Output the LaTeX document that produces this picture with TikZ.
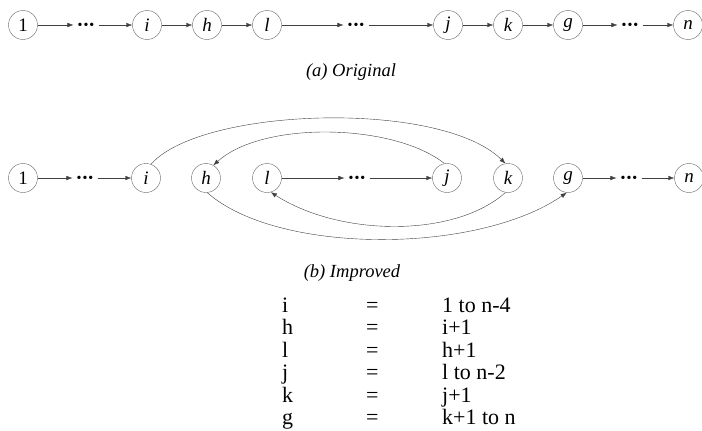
\documentclass[tikz,border=0pt]{standalone}
\usepackage{fontspec}
\setmainfont{Liberation Serif}
\usetikzlibrary{arrows.meta,positioning}
\newcommand{\skipdots}{\raisebox{-4.6pt}[0pt][0pt]{\fontsize{14}{15}\selectfont\textbullet\kern1pt\textbullet\kern1pt\textbullet}}
\tikzset{
  vertex/.style={circle, draw=black!60, thin, minimum size=29pt, inner sep=0pt,
    font=\fontsize{19}{21}\selectfont\itshape},
  skip/.style={inner sep=4pt},
  arr/.style={-{Latex[length=6pt,width=4.5pt]}, draw=black!75, thin},
  caption/.style={font=\fontsize{18.5}{20}\selectfont\itshape},
  tabcell/.style={anchor=base west, inner sep=0pt, font=\fontsize{22}{24}\selectfont}
}

\begin{document}
\begin{tikzpicture}[x=1pt, y=-1pt]
  \useasboundingbox (0,0) rectangle (702,431);

  % (a) original order
  \node[vertex] (a1) at (23,25) {\upshape 1};
  \node[skip] (ad1) at (86,25) {\skipdots};
  \node[vertex] (ai) at (147,25) {i};
  \node[vertex] (ah) at (207,25) {h};
  \node[vertex] (al) at (267,25) {l};
  \node[skip] (ad2) at (356,25) {\skipdots};
  \node[vertex] (aj) at (448,25) {j};
  \node[vertex] (ak) at (508,25) {k};
  \node[vertex] (ag) at (568,25) {g};
  \node[skip] (ad3) at (630,25) {\skipdots};
  \node[vertex] (an) at (688,25) {n};

  \draw[arr] (a1) -- (ad1);
  \draw[arr] (ad1) -- (ai);
  \draw[arr] (ai) -- (ah);
  \draw[arr] (ah) -- (al);
  \draw[arr] (al) -- (ad2);
  \draw[arr] (ad2) -- (aj);
  \draw[arr] (aj) -- (ak);
  \draw[arr] (ak) -- (ag);
  \draw[arr] (ag) -- (ad3);
  \draw[arr] (ad3) -- (an);

  \node[caption] (capa) at (351,72) {(a) Original};

  % (b) improved order
  \node[vertex] (b1) at (23,178) {\upshape 1};
  \node[skip] (bd1) at (85,178) {\skipdots};
  \node[vertex] (bi) at (146,178) {i};
  \node[vertex] (bh) at (206,178) {h};
  \node[vertex] (bl) at (267,178) {l};
  \node[skip] (bd2) at (357,178) {\skipdots};
  \node[vertex] (bj) at (447,178) {j};
  \node[vertex] (bk) at (508,178) {k};
  \node[vertex] (bg) at (568,178) {g};
  \node[skip] (bd3) at (629,178) {\skipdots};
  \node[vertex] (bn) at (689,178) {n};

  \draw[arr] (b1) -- (bd1);
  \draw[arr] (bd1) -- (bi);
  \draw[arr] (bl) -- (bd2);
  \draw[arr] (bd2) -- (bj);
  \draw[arr] (bg) -- (bd3);
  \draw[arr] (bd3) -- (bn);

  \draw[arr] (bi.70) .. controls +(50,-57) and +(-65,-64) .. (bk.100);
  \draw[arr] (bj.100) .. controls +(-50,-40) and +(50,-45) .. (bh.60);
  \draw[arr] (bk.-100) .. controls +(-50,45) and +(70,45) .. (bl.-75);
  \draw[arr] (bh.-85) .. controls +(70,62) and +(-90,62) .. (bg.-95);

  \node[caption] (capb) at (352,273) {(b) Improved};

  % index ranges
  \node[tabcell] (ti) at (282,312) {i};
  \node[tabcell] (te1) at (366,312) {=};
  \node[tabcell] (tv1) at (442,312) {1 to n-4};
  \node[tabcell] (th) at (282,334.5) {h};
  \node[tabcell] (te2) at (366,334.5) {=};
  \node[tabcell] (tv2) at (442,334.5) {i+1};
  \node[tabcell] (tl) at (282,357) {l};
  \node[tabcell] (te3) at (366,357) {=};
  \node[tabcell] (tv3) at (442,357) {h+1};
  \node[tabcell] (tj) at (282,379.5) {j};
  \node[tabcell] (te4) at (366,379.5) {=};
  \node[tabcell] (tv4) at (442,379.5) {l to n-2};
  \node[tabcell] (tk) at (282,402) {k};
  \node[tabcell] (te5) at (366,402) {=};
  \node[tabcell] (tv5) at (442,402) {j+1};
  \node[tabcell] (tg) at (282,424.5) {g};
  \node[tabcell] (te6) at (366,424.5) {=};
  \node[tabcell] (tv6) at (442,424.5) {k+1 to n};
\end{tikzpicture}
\end{document}
